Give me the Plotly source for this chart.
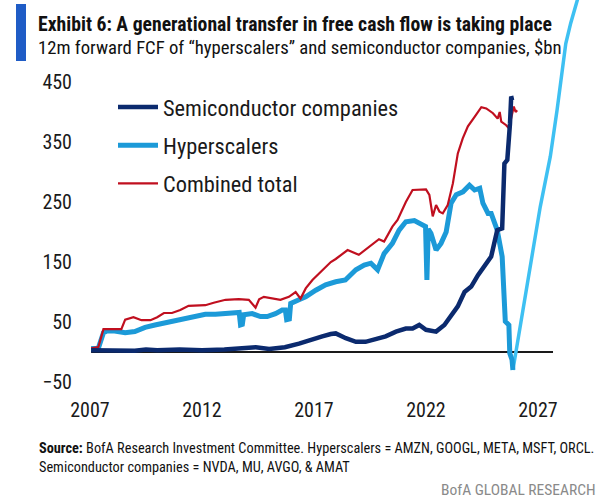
import plotly.graph_objects as go

# ---------------- data ----------------
semi_years = [2007.05, 2008.0, 2009.0, 2009.5, 2010.0, 2011.0, 2012.0, 2013.0, 2014.0, 2014.4,
              2015.0, 2015.7, 2016.33, 2016.78, 2017.37, 2017.75, 2017.97, 2018.42, 2018.87,
              2019.3, 2019.76, 2020.2, 2020.66, 2021.1, 2021.4, 2021.7, 2022.0, 2022.45,
              2022.82, 2023.12, 2023.42, 2023.72, 2024.02, 2024.32, 2024.61, 2024.91,
              2025.18, 2025.4, 2025.5, 2025.63, 2025.75, 2025.8, 2025.92]
semi_values = [3, 2, 2, 4, 3, 4, 3, 4, 6, 8,
               5, 8, 14, 20, 26, 30, 31, 23, 17,
               17, 21, 26, 34, 39, 39, 45, 37, 34,
               45, 62, 76, 100, 109, 128, 142, 159,
               203, 206, 314, 320, 381, 423, 424]

hyper_years = [2007.05, 2007.37, 2007.6, 2007.75, 2008.1, 2008.57, 2009.0, 2009.46, 2009.9,
               2010.36, 2010.8, 2011.25, 2011.7, 2012.15, 2012.6, 2013.05, 2013.5, 2013.66,
               2013.72, 2013.8, 2013.86, 2014.24, 2014.61, 2014.91, 2015.28, 2015.58, 2015.72,
               2015.78, 2015.9, 2015.96, 2016.33, 2016.63, 2017.08, 2017.52, 2017.97, 2018.4,
               2018.87, 2019.24, 2019.54, 2019.84, 2020.13, 2020.5, 2020.8, 2021.1, 2021.48,
               2021.78, 2021.98, 2022.04, 2022.1, 2022.22, 2022.45, 2022.67, 2022.9, 2023.12,
               2023.35, 2023.65, 2023.94, 2024.17, 2024.4, 2024.54, 2024.77, 2024.91, 2025.18,
               2025.4, 2025.5, 2025.54, 2025.7, 2025.74, 2025.84, 2025.88]
hyper_values = [6, 6, 32, 35, 35, 32, 34, 41, 45,
                49, 53, 56, 59, 63, 63, 64, 67, 66,
                45, 46, 62, 64, 59, 59, 64, 70, 70,
                54, 55, 81, 87, 92, 103, 112, 117, 120,
                137, 145, 148, 137, 164, 181, 203, 217, 219,
                212, 209, 120, 205, 198, 170, 181, 200, 248,
                262, 267, 278, 270, 273, 248, 231, 231, 203,
                159, 103, 51, 45, -2, -13, -30]

# light-blue extension rising off the top of the chart
ext_years = [2025.88, 2026.06, 2026.28, 2026.65, 2027.1, 2027.55, 2027.85, 2028.24, 2028.46,
             2028.76, 2029.1]
ext_values = [-30, 9, 59, 142, 242, 326, 403, 514, 548, 587, 640]

comb_years = [2007.05, 2007.37, 2007.6, 2008.2, 2008.4, 2008.57, 2008.94, 2009.3, 2009.7,
              2010.0, 2010.3, 2010.66, 2011.03, 2011.4, 2011.85, 2012.15, 2012.52, 2013.05,
              2013.64, 2014.09, 2014.39, 2014.55, 2014.76, 2015.13, 2015.5, 2015.88, 2016.18,
              2016.4, 2016.63, 2016.93, 2017.37, 2017.75, 2017.97, 2018.5, 2019.0, 2019.46,
              2019.9, 2020.13, 2020.5, 2020.73, 2021.1, 2021.4, 2021.78, 2022.0, 2022.15,
              2022.3, 2022.45, 2022.6, 2022.75, 2022.97, 2023.2, 2023.42, 2023.64, 2023.87,
              2024.17, 2024.47, 2024.69, 2024.99, 2025.2, 2025.29, 2025.36, 2025.58, 2025.7,
              2025.85, 2025.92, 2026.0, 2026.07]
comb_values = [6, 8, 38, 38, 38, 54, 58, 53, 53,
               58, 65, 65, 70, 77, 78, 78, 82, 87,
               88, 87, 74, 88, 92, 89, 87, 92, 100,
               89, 106, 120, 137, 150, 155, 170, 162, 176,
               188, 184, 209, 220, 250, 270, 270, 271, 262,
               226, 245, 234, 231, 245, 281, 331, 356, 376,
               392, 408, 406, 398, 389, 400, 384, 378, 373,
               395, 409, 400, 403]

zero_line_years = [2007.05, 2027.67]
y_ticks = [-50, 50, 150, 250, 350, 450]
x_ticks = [2007, 2012, 2017, 2022, 2027]

title = "<b>Exhibit 6: A generational transfer in free cash flow is taking place</b>"
subtitle = "12m forward FCF of “hyperscalers” and semiconductor companies, $bn"
source = ("<b>Source:</b> BofA Research Investment Committee. Hyperscalers = AMZN, GOOGL, META, MSFT, ORCL."
          "<br>Semiconductor companies = NVDA, MU, AVGO, & AMAT")
brand = "BofA GLOBAL RESEARCH"

# ---------------- layout geometry ----------------
W, H = 606, 500
L, R, T, B = 80, 0, 0, 110
PW, PH = W - L - R, H - T - B
ZERO_PX, PX_PER_UNIT = 352, 0.6
X0_PX, PX_PER_YEAR = 90, 22.4

y_range = [-(T + PH - ZERO_PX) / PX_PER_UNIT, (ZERO_PX - T) / PX_PER_UNIT]
x_range = [2007 - (X0_PX - L) / PX_PER_YEAR, 2007 + (W - R - X0_PX) / PX_PER_YEAR]


def px_x(px):
    return (px - L) / PW


def px_y(py):
    return 1 - (py - T) / PH


FONT = "Liberation Sans Narrow, Arial Narrow, Roboto Condensed, Roboto, sans-serif"
NAVY, HYPER, LIGHT, RED = "#0b2a6e", "#1c9ad8", "#3ec0f2", "#c00f1f"

fig = go.Figure()
fig.add_trace(go.Scatter(x=ext_years, y=ext_values, mode="lines", showlegend=False,
                         line=dict(color=LIGHT, width=3.5), hoverinfo="skip"))
fig.add_trace(go.Scatter(x=hyper_years, y=hyper_values, mode="lines", name="Hyperscalers",
                         legendrank=2, legendgroup="b",
                         line=dict(color=HYPER, width=5)))
fig.add_trace(go.Scatter(x=comb_years, y=comb_values, mode="lines", name="Combined total",
                         legendrank=3, legendgroup="c",
                         line=dict(color=RED, width=2.2)))
fig.add_trace(go.Scatter(x=semi_years, y=semi_values, mode="lines", name="Semiconductor companies",
                         legendrank=1, legendgroup="a",
                         line=dict(color=NAVY, width=4.5)))

fig.add_shape(type="line", xref="x", yref="y", x0=zero_line_years[0], x1=zero_line_years[1],
              y0=0, y1=0, line=dict(color="#1a1a1a", width=2), layer="below")

# blue bar next to the title
fig.add_shape(type="rect", xref="paper", yref="paper", x0=px_x(16), x1=px_x(26),
              y0=px_y(61), y1=px_y(4), fillcolor="#1f5cc6", line=dict(width=0))

fig.add_annotation(text=title, xref="paper", yref="paper", x=px_x(36), y=px_y(24),
                   xanchor="left", yanchor="middle", showarrow=False,
                   font=dict(family=FONT, size=19.7, color="#111111"))
fig.add_annotation(text=subtitle, xref="paper", yref="paper", x=px_x(36), y=px_y(48),
                   xanchor="left", yanchor="middle", showarrow=False,
                   font=dict(family=FONT, size=18.7, color="#111111"))
fig.add_annotation(text=source, xref="paper", yref="paper", x=px_x(37), y=px_y(457),
                   xanchor="left", yanchor="middle", align="left", showarrow=False,
                   font=dict(family=FONT, size=14.3, color="#111111"))
fig.add_annotation(text=brand, xref="paper", yref="paper", x=px_x(598), y=px_y(490),
                   xanchor="right", yanchor="middle", showarrow=False,
                   font=dict(family=FONT, size=15.5, color="#8a8a8a"))

fig.update_layout(
    width=W, height=H,
    margin=dict(l=L, r=R, t=T, b=B, pad=0),
    paper_bgcolor="white", plot_bgcolor="white",
    font=dict(family=FONT, size=19, color="#1a1a1a"),
    xaxis=dict(range=x_range, tickvals=x_ticks, ticks="", showgrid=False, zeroline=False,
               showline=False, ticklabelstandoff=6, tickfont=dict(size=20)),
    yaxis=dict(range=y_range, tickvals=y_ticks, ticks="", showgrid=False, zeroline=False,
               showline=False, ticklabelstandoff=7, tickfont=dict(size=20)),
    legend=dict(x=px_x(113), y=px_y(86), xanchor="left", yanchor="top",
                bgcolor="rgba(0,0,0,0)", font=dict(size=22.4, color="#1a1a1a"),
                tracegroupgap=6, itemwidth=40),
    showlegend=True,
)

fig.write_html("out.html")
